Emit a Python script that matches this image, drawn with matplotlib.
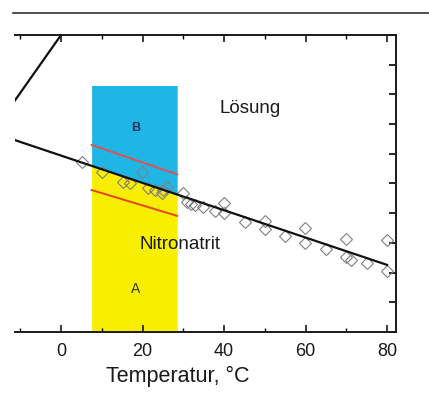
import matplotlib
matplotlib.use("Agg")
import matplotlib.pyplot as plt
from matplotlib.lines import Line2D
import numpy as np

plt.rcParams['font.family'] = ['Liberation Sans', 'DejaVu Sans']

# Measured solubility points (temperature in °C, concentration in plot units)
temp_pts = [5.1, 10.0, 15.2, 16.9, 19.8, 21.4, 23.1, 24.7, 25.0, 25.9, 30.0, 30.8,
            31.9, 32.9, 34.8, 37.8, 40.0, 40.0, 45.2, 50.1, 50.1, 55.0, 59.9, 59.9,
            65.0, 69.9, 69.9, 71.2, 75.1, 80.0, 80.0]
conc_pts = [5.73, 5.40, 5.06, 5.02, 5.40, 4.85, 4.78, 4.67, 4.78, 4.89, 4.67, 4.39,
            4.31, 4.28, 4.21, 4.07, 4.34, 4.01, 3.70, 3.74, 3.47, 3.23, 3.50, 3.00,
            2.79, 3.13, 2.53, 2.42, 2.32, 3.10, 2.05]

# Solubility curve of nitronatrite (endpoints)
sol_T = [-11.3, 80.0]
sol_c = [6.46, 2.26]

# Ice line (endpoints)
ice_T = [-11.3, 0.0]
ice_c = [7.80, 10.0]

# Region A/B band
band_T = [7.5, 28.5]
band_top = 8.3

# Red boundary lines
red_upper_T, red_upper_c = [7.5, 28.5], [6.30, 5.31]
red_lower_T, red_lower_c = [7.5, 28.5], [4.78, 3.91]

x_ticks = [0, 20, 40, 60, 80]
x_limits = (-11.3, 82.2)
y_limits = (0, 10)

fig = plt.figure(figsize=(4.29, 4.0), dpi=100)
ax = fig.add_axes([15/429, 1-332/400, (396-15)/429, (332-35)/400])

# Filled band: blue above the solubility curve, yellow below
tt = np.array(band_T)
sol_at = np.interp(tt, sol_T, sol_c)
ax.fill_between(tt, sol_at, band_top, color='#1fb6e6', lw=0, zorder=1)
ax.fill_between(tt, 0, sol_at, color='#f7ee00', lw=0, zorder=1)

ax.plot(red_upper_T, red_upper_c, color='#e5504a', lw=1.4, zorder=2)
ax.plot(red_lower_T, red_lower_c, color='#e8461e', lw=1.4, zorder=2)

ax.plot(temp_pts, conc_pts, linestyle='none', marker='D', markersize=5.8,
        markerfacecolor='none', markeredgecolor='#808080', markeredgewidth=0.8, zorder=3)

ax.plot(sol_T, sol_c, color='#111111', lw=1.6, zorder=4)
ax.plot(ice_T, ice_c, color='#111111', lw=1.6, zorder=4)

ax.text(18.2, 6.88, 'B', color='#1a2f5a', fontsize=9, fontweight='bold',
        ha='center', va='center', zorder=5)
ax.text(18.2, 1.45, 'A', color='#3a3a10', fontsize=10, ha='center', va='center', zorder=5)
ax.text(46.4, 7.54, 'Lösung', color='#1a1a1a', fontsize=13.5, ha='center', va='center', zorder=5)
ax.text(29.2, 2.93, 'Nitronatrit', color='#1a1a1a', fontsize=13.5, ha='center', va='center', zorder=5)

ax.set_xlim(*x_limits)
ax.set_ylim(*y_limits)
ax.set_xticks(x_ticks)
ax.set_xticks(np.arange(-10, 81, 10), minor=True)
ax.set_yticks(np.arange(0, 11, 1))
ax.tick_params(axis='x', which='major', direction='in', top=True, bottom=True,
               length=5, width=1.2, labelsize=13, pad=8, colors='#1a1a1a')
ax.tick_params(axis='x', which='minor', direction='in', top=True, bottom=True,
               length=3, width=1.0)
ax.tick_params(axis='y', which='major', direction='in', left=False, right=True,
               labelleft=False, labelright=False, length=5, width=1.2)
ax.spines['left'].set_visible(False)
for s in ['top', 'bottom', 'right']:
    ax.spines[s].set_linewidth(1.4)
    ax.spines[s].set_color('#1a1a1a')

ax.set_xlabel('Temperatur, °C', fontsize=15.5, color='#1a1a1a')
ax.xaxis.set_label_coords((178-15)/(396-15), -0.115)

# Horizontal rule above the plot
fig.add_artist(Line2D([13/429, 1.0], [1-13/400, 1-13/400], color='#333333', lw=1.2))

fig.savefig('out.png', dpi=100)
